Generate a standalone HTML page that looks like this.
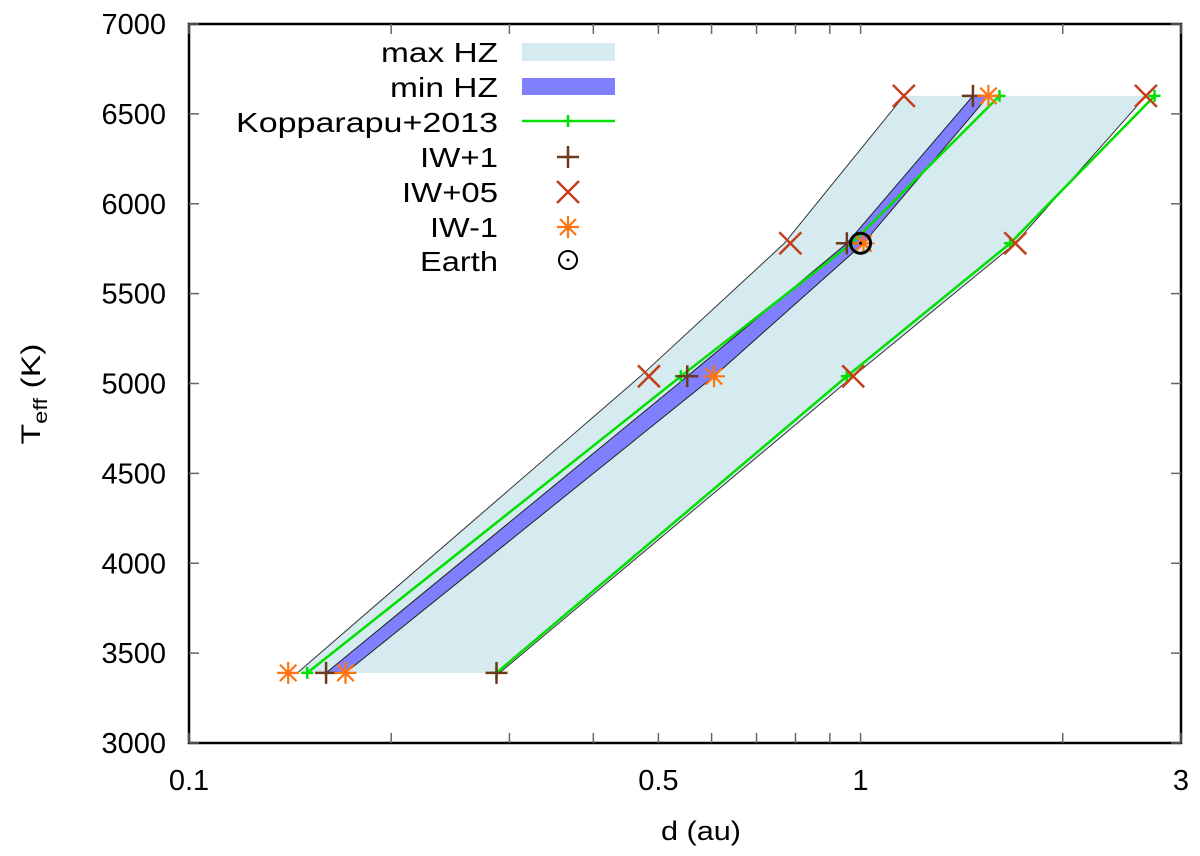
<!DOCTYPE html>
<html><head><meta charset="utf-8"><style>
html,body{margin:0;padding:0;background:#fff;}
svg{display:block;font-family:"Liberation Sans",Arial,sans-serif;}
</style></head><body>
<svg id="chart" width="1200" height="856" viewBox="0 0 1200 856" xmlns="http://www.w3.org/2000/svg"></svg>
<script>
const temps = [3390, 5040, 5780, 6600];
const maxHzLeft = [0.145, 0.47, 0.77, 1.16];
const maxHzRight = [0.29, 0.975, 1.70, 2.66];
const minHzLeft = [0.160, 0.552, 0.954, 1.47];
const minHzRight = [0.171, 0.605, 1.01, 1.55];
const koppInner = [0.150, 0.54, 0.97, 1.61];
const koppOuter = [0.287, 0.954, 1.67, 2.74];
const iw1D = [0.160, 0.552, 0.954, 1.47, 0.287];
const iw1T = [3390, 5040, 5780, 6600, 3390];
const iw05D = [0.484, 0.786, 1.16, 0.975, 1.70, 2.66];
const iw05T = [5040, 5780, 6600, 5040, 5780, 6600];
const iwm1D = [0.1405, 0.171, 0.605, 1.01, 1.55];
const iwm1T = [3390, 3390, 5040, 5780, 6600];
const earthD = [1.0];
const earthT = [5780];
const yTicks = [3000, 3500, 4000, 4500, 5000, 5500, 6000, 6500, 7000];
const xTickVals = [0.1,0.2,0.3,0.4,0.5,0.6,0.7,0.8,0.9,1,2,3];
const xTickLabels = ["0.1","0.5","1","3"];

const L=189,R=1181,T=24,B=743;
const X=d=>L+(Math.log10(d)-Math.log10(0.1))/(Math.log10(3)-Math.log10(0.1))*(R-L);
const Y=t=>B-(t-3000)/4000*(B-T);
const NS="http://www.w3.org/2000/svg";
const svg=document.getElementById('chart');
function mk(tag,attrs,parent){const e=document.createElementNS(NS,tag);for(const k in attrs)e.setAttribute(k,attrs[k]);(parent||svg).appendChild(e);return e;}

let pts=temps.map((t,i)=>X(maxHzLeft[i])+','+Y(t)).concat(temps.map((t,i)=>X(maxHzRight[i])+','+Y(t)).reverse()).join(' ');
let e=mk('polygon',{points:pts,fill:'#d6ebf0',stroke:'none'});


e=mk('polyline',{points:temps.map((t,i)=>X(maxHzLeft[i])+','+Y(t)).join(' '),fill:'none',stroke:'#333',"stroke-width":1});


e=mk('polyline',{points:temps.map((t,i)=>X(maxHzRight[i])+','+Y(t)).join(' '),fill:'none',stroke:'#333',"stroke-width":1});


pts=temps.map((t,i)=>X(minHzLeft[i])+','+Y(t)).concat(temps.map((t,i)=>X(minHzRight[i])+','+Y(t)).reverse()).join(' ');
e=mk('polygon',{points:pts,fill:'#8080ff',stroke:'#222',"stroke-width":1});


[koppInner,koppOuter].forEach((arr,j)=>{
  const l=mk('polyline',{points:temps.map((t,i)=>X(arr[i])+','+Y(t)).join(' '),fill:'none',stroke:'#00e000',"stroke-width":2.5});
  
  
  arr.forEach((d,i)=>{const x=X(d),y=Y(temps[i]);
    const p=mk('path',{d:`M${x-6},${y}H${x+6}M${x},${y-6}V${y+6}`,stroke:'#00e000',"stroke-width":2.5});
    
    });
});
function plus(x,y,s){return `M${x-s},${y}H${x+s}M${x},${y-s}V${y+s}`;}
iw1D.forEach((d,i)=>{const p=mk('path',{d:plus(X(d),Y(iw1T[i]),11),stroke:'#6b3a1e',"stroke-width":2.5});
  
  });
iw05D.forEach((d,i)=>{const x=X(d),y=Y(iw05T[i]),s=11;const p=mk('path',{d:`M${x-s},${y-s}L${x+s},${y+s}M${x-s},${y+s}L${x+s},${y-s}`,stroke:'#c4401a',"stroke-width":2.5});
  
  });
function star(x,y,s){return plus(x,y,s)+`M${x-s*.75},${y-s*.75}L${x+s*.75},${y+s*.75}M${x-s*.75},${y+s*.75}L${x+s*.75},${y-s*.75}`;}
iwm1D.forEach((d,i)=>{const p=mk('path',{d:star(X(d),Y(iwm1T[i]),11),stroke:'#ff7410',"stroke-width":2.2});
  
  });
earthD.forEach((d,i)=>{const c=mk('circle',{cx:X(d),cy:Y(earthT[i]),r:10,fill:'none',stroke:'#000',"stroke-width":3});
  
  
  const dot=mk('circle',{cx:X(d),cy:Y(earthT[i]),r:1.5,fill:'#000'});
  
  });
e=mk('rect',{x:L,y:T,width:R-L,height:B-T,fill:'none',stroke:'#000',"stroke-width":2.5});


yTicks.forEach(t=>{const y=Y(t);
  const k=mk('path',{d:`M${L},${y}H${L+10}M${R},${y}H${R-10}`,stroke:'#666',"stroke-width":1.5});
  
  
  const tx=mk('text',{x:166,y:y+10,"text-anchor":"end","font-size":29,fill:'#000'});tx.textContent=t;
  
  });
xTickVals.forEach(v=>{const x=X(v);
  const k=mk('path',{d:`M${x},${B}V${B-10}M${x},${T}V${T+10}`,stroke:'#666',"stroke-width":1.5});
  
  });
xTickLabels.forEach(s=>{const tx=mk('text',{x:X(parseFloat(s)),y:790,"text-anchor":"middle","font-size":29,fill:'#000'});tx.textContent=s;
  
  });
</script>
<svg style="position:absolute;left:0;top:0" width="1200" height="856">
  <text x="661" y="840" font-size="27" textLength="80" lengthAdjust="spacingAndGlyphs" font-family="Liberation Sans, sans-serif">d (au)</text>
  <text transform="translate(40,394) rotate(-90) scale(1.25,1)" text-anchor="middle" font-size="27" font-family="Liberation Sans, sans-serif">T<tspan font-size="19" dy="7">eff</tspan><tspan dy="-7"> (K)</tspan></text>
  <g font-size="28" font-family="Liberation Sans, sans-serif">
    <text x="381" y="62" textLength="117" lengthAdjust="spacingAndGlyphs">max HZ</text>
    <rect x="522" y="43" width="93" height="18" fill="#d6ebf0"/>
    <text x="390" y="97" textLength="108" lengthAdjust="spacingAndGlyphs">min HZ</text>
    <rect x="522" y="78" width="93" height="17" fill="#8080ff"/>
    <text x="236" y="132" textLength="262" lengthAdjust="spacingAndGlyphs">Kopparapu+2013</text>
    <path d="M522,121H615M568,115V127" stroke="#00e000" stroke-width="2.5"/>
    <text x="420" y="167" textLength="78" lengthAdjust="spacingAndGlyphs">IW+1</text>
    <path d="M557,157H579M568,146V168" stroke="#6b3a1e" stroke-width="2.5"/>
    <text x="402" y="202" textLength="96" lengthAdjust="spacingAndGlyphs">IW+05</text>
    <path d="M557,181L579,203M557,203L579,181" stroke="#c4401a" stroke-width="2.5"/>
    <text x="430" y="237" textLength="68" lengthAdjust="spacingAndGlyphs">IW-1</text>
    <path d="M557,227H579M568,216V238M560,219L576,235M560,235L576,219" stroke="#ff7410" stroke-width="2.2"/>
    <text x="420" y="271" textLength="78" lengthAdjust="spacingAndGlyphs">Earth</text>
    <circle cx="568" cy="260" r="9" fill="none" stroke="#000" stroke-width="2"/>
    <circle cx="568" cy="260" r="1.5" fill="#000"/>
  </g>
</svg>
</body></html>
